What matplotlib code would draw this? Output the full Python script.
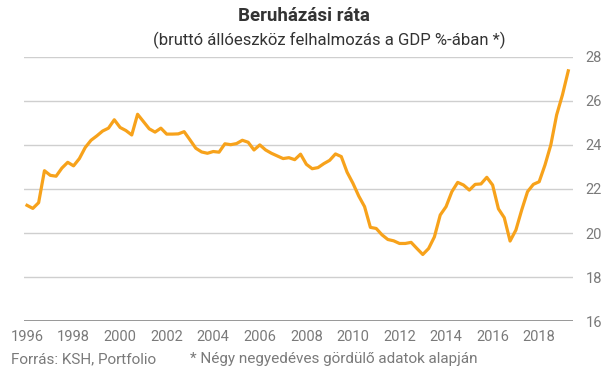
import numpy as np
import matplotlib.pyplot as plt

# negyedéves adatok, 1996 Q1 - 2019 Q2 (négy negyedéves gördülő)
start_year = 1996
rate = [21.26, 21.12, 21.38, 22.83, 22.62, 22.58, 22.95, 23.21, 23.05, 23.38,
        23.88, 24.21, 24.41, 24.63, 24.76, 25.14, 24.79, 24.65, 24.45, 25.39,
        25.06, 24.73, 24.58, 24.76, 24.49, 24.49, 24.50, 24.60, 24.23, 23.85,
        23.68, 23.62, 23.70, 23.67, 24.05, 24.01, 24.06, 24.21, 24.12, 23.77,
        24.00, 23.77, 23.62, 23.50, 23.38, 23.42, 23.33, 23.58, 23.12, 22.92,
        22.97, 23.15, 23.30, 23.59, 23.47, 22.76, 22.26, 21.68, 21.20, 20.26,
        20.21, 19.92, 19.71, 19.65, 19.53, 19.53, 19.58, 19.30, 19.03, 19.30,
        19.83, 20.82, 21.20, 21.88, 22.30, 22.18, 21.95, 22.21, 22.23, 22.53,
        22.18, 21.10, 20.70, 19.64, 20.14, 21.05, 21.88, 22.21, 22.33, 23.09,
        24.00, 25.36, 26.27, 27.36]
year_ticks = list(range(1996, 2019, 2))
y_ticks = [16, 18, 20, 22, 24, 26, 28]

t = start_year + np.arange(len(rate)) / 4

plt.rcParams['font.family'] = ['Roboto', 'DejaVu Sans']
fig = plt.figure(figsize=(6.05, 3.78), dpi=100)
ax = fig.add_axes([0.040, 0.150, 0.907, 0.700])

ax.plot(t, rate, color='#F7A21B', lw=2.3, solid_joinstyle='round')

ax.set_xlim(1995.88, 2019.45)
ax.set_ylim(16, 28)
ax.set_yticks(y_ticks)
ax.set_xticks(year_ticks)
ax.yaxis.tick_right()
ax.tick_params(axis='y', length=0, pad=9, labelsize=10.5, labelcolor='#7a7a7a')
ax.tick_params(axis='x', length=0, pad=6, labelsize=10.5, labelcolor='#7a7a7a')
ax.grid(axis='y', color='#cfcfcf', lw=1)
for s in ax.spines.values():
    s.set_visible(False)
ax.axhline(16, color='#888888', lw=1.2, zorder=3)

fig.text(304 / 605, 1 - 16 / 378, 'Beruházási ráta', ha='center', va='center',
         fontsize=13.5, fontweight='bold', color='#333333')
fig.text(329 / 605, 1 - 40 / 378, '(bruttó állóeszköz felhalmozás a GDP %-ában *)',
         ha='center', va='center', fontsize=12, color='#333333')
fig.text(11 / 605, 1 - 359 / 378, 'Forrás: KSH, Portfolio', ha='left', va='center',
         fontsize=11, color='#7a7a7a')
fig.text(190 / 605, 1 - 359 / 378, '* Négy negyedéves gördülő adatok alapján',
         ha='left', va='center', fontsize=11, color='#7a7a7a')

fig.savefig('out.png', dpi=100)
